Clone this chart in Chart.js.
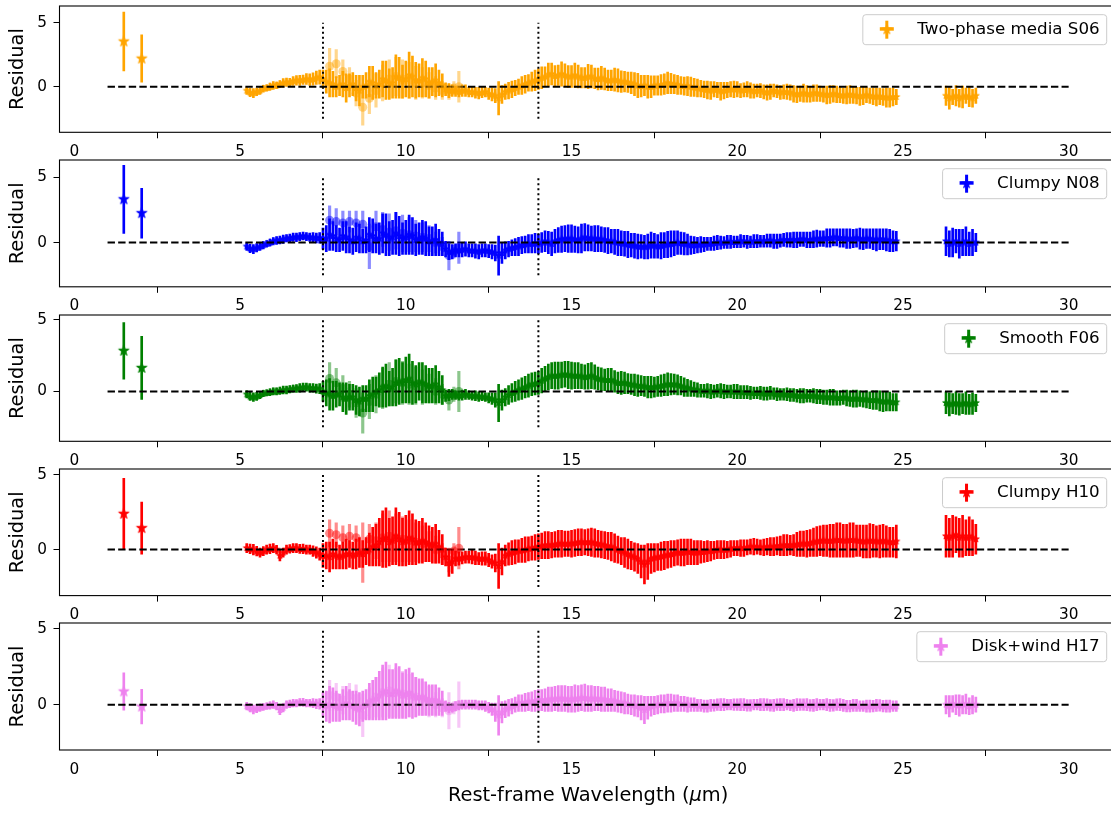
<!DOCTYPE html>
<html lang="en">
<head>
<meta charset="utf-8">
<title>Residuals per torus model</title>
<script src="https://cdn.jsdelivr.net/npm/chart.js@4.4.1/dist/chart.umd.min.js"></script>
<style>
  html, body { margin: 0; padding: 0; background: #fff; overflow: hidden; }
  #figure { position: relative; width: 1111px; height: 814px; overflow: hidden; }
  #figure canvas { position: absolute; left: 0; }
</style>
</head>
<body>
<div id="figure"></div>
<script>
// Rest-frame wavelength grids (micron)
const WAVE = [
  5.2, 5.3, 5.4, 5.5, 5.6, 5.7, 5.8, 5.9, 6.0, 6.1,
  6.2, 6.3, 6.4, 6.5, 6.6, 6.7, 6.8, 6.9, 7.0, 7.1,
  7.2, 7.3, 7.4, 7.5, 7.6, 7.7, 7.8, 7.9, 8.0, 8.1,
  8.2, 8.3, 8.4, 8.5, 8.6, 8.7, 8.8, 8.9, 9.0, 9.1,
  9.2, 9.3, 9.4, 9.5, 9.6, 9.7, 9.8, 9.9, 10.0, 10.1,
  10.2, 10.3, 10.4, 10.5, 10.6, 10.7, 10.8, 10.9, 11.0, 11.1,
  11.2, 11.3, 11.4, 11.5, 11.6, 11.7, 11.8, 11.9, 12.0, 12.1,
  12.2, 12.3, 12.4, 12.5, 12.6, 12.7, 12.8, 12.9, 13.0, 13.1,
  13.2, 13.3, 13.4, 13.5, 13.6, 13.7, 13.8, 13.9, 14.0, 14.1,
  14.2, 14.3, 14.4, 14.5, 14.6, 14.7, 14.8, 14.9, 15.0, 15.1,
  15.2, 15.3, 15.4, 15.5, 15.6, 15.7, 15.8, 15.9, 16.0, 16.1,
  16.2, 16.3, 16.4, 16.5, 16.6, 16.7, 16.8, 16.9, 17.0, 17.1,
  17.2, 17.3, 17.4, 17.5, 17.6, 17.7, 17.8, 17.9, 18.0, 18.1,
  18.2, 18.3, 18.4, 18.5, 18.6, 18.7, 18.8, 18.9, 19.0, 19.1,
  19.2, 19.3, 19.4, 19.5, 19.6, 19.7, 19.8, 19.9, 20.0, 20.1,
  20.2, 20.3, 20.4, 20.5, 20.6, 20.7, 20.8, 20.9, 21.0, 21.1,
  21.2, 21.3, 21.4, 21.5, 21.6, 21.7, 21.8, 21.9, 22.0, 22.1,
  22.2, 22.3, 22.4, 22.5, 22.6, 22.7, 22.8, 22.9, 23.0, 23.1,
  23.2, 23.3, 23.4, 23.5, 23.6, 23.7, 23.8, 23.9, 24.0, 24.1,
  24.2, 24.3, 24.4, 24.5, 24.6, 24.7, 24.8
];
const WAVE_LONG = [26.3, 26.4, 26.5, 26.6, 26.7, 26.8, 26.9, 27.0, 27.1, 27.2];
const WAVE_OVER = [7.7, 7.9, 8.1, 8.3, 8.5, 8.7, 8.9, 9.1, 9.3, 9.5, 9.7, 9.9, 10.1, 10.3, 10.5, 10.7, 10.9, 11.1, 11.3, 11.45, 11.6];
const WAVE_PHOT = [1.49, 2.03];

const X_TICKS = [0, 5, 10, 15, 20, 25, 30];
const Y_TICKS = [0, 5];
const ZERO_LINE = [1, 30];
const MARK_LINES = [7.5, 14];
const MARK_SPAN = [-2.5, 5];

// Two-phase media S06
const RES_S06 = [
  -0.3, -0.45, -0.5, -0.4, -0.3, -0.15, -0.1, 0.0, 0.1, 0.1,
  0.2, 0.3, 0.35, 0.35, 0.45, 0.5, 0.5, 0.55, 0.6, 0.55,
  0.6, 0.7, 0.75, 0.6, 0.4, 0.3, 0.2, 0.0, 0.1, 0.2,
  -0.1, 0.1, 0.2, -0.1, -0.3, 0.0, 0.1, 0.4, 0.3, 0.1,
  0.2, 0.6, 0.5, 0.2, 0.3, 0.8, 0.7, 0.4, 0.6, 0.9,
  0.8, 0.5, 0.5, 0.7, 0.6, 0.3, 0.4, 0.5, 0.3, 0.1,
  -0.2, -0.3, -0.3, -0.35, -0.4, -0.3, -0.3, -0.4, -0.4, -0.45,
  -0.5, -0.45, -0.4, -0.55, -0.6, -0.7, -0.9, -0.6, -0.4, -0.3,
  -0.2, -0.1, 0.0, 0.1, 0.2, 0.3, 0.4, 0.5, 0.6, 0.7,
  0.8, 0.95, 1.0, 0.85, 0.9, 1.0, 0.9, 0.8, 0.8, 0.9,
  0.8, 0.7, 0.7, 0.8, 0.8, 0.65, 0.6, 0.7, 0.6, 0.5,
  0.5, 0.55, 0.5, 0.4, 0.4, 0.35, 0.3, 0.2, 0.1, 0.05,
  0.1, 0.0, 0.0, 0.1, 0.1, 0.15, 0.2, 0.3, 0.25, 0.2,
  0.15, 0.1, 0.05, 0.05, 0.0, -0.05, -0.1, -0.15, -0.2, -0.25,
  -0.3, -0.2, -0.25, -0.35, -0.3, -0.25, -0.2, -0.2, -0.2, -0.3,
  -0.25, -0.2, -0.3, -0.35, -0.3, -0.3, -0.4, -0.45, -0.4, -0.3,
  -0.35, -0.45, -0.4, -0.4, -0.45, -0.55, -0.6, -0.55, -0.5, -0.55,
  -0.6, -0.5, -0.5, -0.55, -0.6, -0.65, -0.6, -0.55, -0.6, -0.65,
  -0.7, -0.65, -0.6, -0.65, -0.7, -0.75, -0.7, -0.65, -0.7, -0.75,
  -0.8, -0.75, -0.8, -0.85, -0.85, -0.8, -0.8
];
const ERR_S06 = [
  0.30, 0.32, 0.35, 0.30, 0.30, 0.27, 0.25, 0.28, 0.30, 0.26,
  0.28, 0.33, 0.32, 0.30, 0.35, 0.38, 0.40, 0.36, 0.42, 0.45,
  0.48, 0.52, 0.55, 0.7, 0.9, 1.1, 1.0, 0.8, 0.8, 1.0,
  1.1, 0.9, 0.9, 1.0, 1.2, 0.9, 1.0, 1.2, 1.3, 1.0,
  1.1, 1.4, 1.5, 1.2, 1.2, 1.7, 1.6, 1.3, 1.4, 1.8,
  1.6, 1.4, 1.3, 1.5, 1.4, 1.2, 1.1, 1.3, 1.0, 0.9,
  0.5, 0.55, 0.45, 0.4, 0.4, 0.45, 0.45, 0.4, 0.4, 0.45,
  0.45, 0.4, 0.4, 0.45, 0.5, 0.55, 1.3, 0.7, 0.6, 0.65,
  0.65, 0.6, 0.6, 0.7, 0.7, 0.65, 0.75, 0.8, 0.8, 0.85,
  0.75, 0.9, 0.85, 0.8, 0.8, 0.95, 0.9, 0.85, 0.85, 0.95,
  0.9, 0.8, 0.8, 0.95, 0.9, 0.8, 0.85, 0.9, 0.85, 0.8,
  0.8, 0.9, 0.9, 0.85, 0.8, 0.8, 0.85, 0.9, 0.95, 0.85,
  0.8, 0.9, 0.85, 0.75, 0.75, 0.8, 0.8, 0.85, 0.8, 0.75,
  0.75, 0.7, 0.7, 0.75, 0.75, 0.7, 0.7, 0.65, 0.65, 0.7,
  0.7, 0.6, 0.6, 0.7, 0.65, 0.6, 0.6, 0.65, 0.6, 0.55,
  0.55, 0.6, 0.6, 0.55, 0.5, 0.55, 0.55, 0.6, 0.6, 0.5,
  0.5, 0.55, 0.55, 0.6, 0.6, 0.65, 0.65, 0.6, 0.7, 0.65,
  0.6, 0.65, 0.65, 0.6, 0.6, 0.7, 0.7, 0.65, 0.65, 0.6,
  0.6, 0.7, 0.7, 0.65, 0.65, 0.7, 0.7, 0.6, 0.6, 0.65,
  0.7, 0.65, 0.65, 0.75, 0.75, 0.7, 0.6
];
const OVER_RES_S06 = [1.6, 1.8, 1.2, 0.6, -0.5, -1.6, -0.9, -0.3, 0.3, 0.6, 0.8, 0.6, 0.5, 0.3, 0.3, 0.1, -0.1, -0.3, -0.4, -0.1, 0.0];
const OVER_ERR_S06 = [1.4, 1.1, 0.9, 0.9, 1.0, 1.4, 1.2, 1.3, 1.4, 1.5, 1.5, 1.5, 1.4, 1.3, 1.2, 1.0, 0.9, 0.7, 0.6, 0.5, 1.2];
const LONG_RES_S06 = [-0.7, -0.9, -0.8, -0.7, -0.9, -0.8, -0.7, -0.8, -0.9, -0.7];
const LONG_ERR_S06 = [0.75, 0.85, 0.6, 0.8, 0.7, 0.85, 0.6, 0.75, 0.7, 0.6];
const PHOT_RES_S06 = [3.54, 2.2];
const PHOT_ERR_S06 = [2.3, 1.85];

// Clumpy N08
const RES_N08 = [
  -0.3, -0.45, -0.5, -0.4, -0.3, -0.2, -0.1, 0.0, 0.1, 0.15,
  0.2, 0.25, 0.3, 0.35, 0.4, 0.4, 0.45, 0.5, 0.45, 0.4,
  0.4, 0.35, 0.35, 0.3, 0.3, 0.6, 0.5, 0.3, 0.2, 0.5,
  0.4, 0.2, 0.1, 0.4, 0.3, 0.1, 0.2, 0.6, 0.5, 0.3,
  0.3, 0.7, 0.6, 0.3, 0.4, 0.7, 0.5, 0.3, 0.4, 0.6,
  0.5, 0.2, 0.3, 0.4, 0.3, 0.1, 0.1, 0.2, 0.0, -0.1,
  -0.5, -0.7, -0.7, -0.6, -0.6, -0.55, -0.5, -0.6, -0.6, -0.65,
  -0.7, -0.6, -0.6, -0.65, -0.7, -0.8, -1.0, -0.8, -0.6, -0.5,
  -0.4, -0.35, -0.3, -0.2, -0.15, -0.1, -0.1, -0.05, -0.1, 0.0,
  0.1, 0.0, -0.1, 0.1, 0.2, 0.25, 0.3, 0.3, 0.3, 0.25,
  0.2, 0.3, 0.4, 0.35, 0.3, 0.3, 0.3, 0.25, 0.2, 0.15,
  0.1, 0.05, 0.0, -0.05, -0.1, -0.15, -0.2, -0.25, -0.3, -0.3,
  -0.35, -0.3, -0.2, -0.25, -0.3, -0.25, -0.2, -0.15, -0.1, -0.05,
  0.0, -0.05, -0.1, -0.15, -0.2, -0.2, -0.2, -0.15, -0.15, -0.1,
  -0.1, -0.05, 0.0, 0.0, 0.0, 0.05, 0.05, 0.05, 0.05, 0.1,
  0.1, 0.05, 0.05, 0.1, 0.1, 0.1, 0.1, 0.15, 0.15, 0.1,
  0.1, 0.15, 0.2, 0.2, 0.2, 0.2, 0.2, 0.25, 0.25, 0.2,
  0.2, 0.25, 0.3, 0.3, 0.3, 0.35, 0.35, 0.4, 0.4, 0.35,
  0.35, 0.3, 0.3, 0.3, 0.35, 0.3, 0.25, 0.3, 0.3, 0.25,
  0.2, 0.25, 0.25, 0.2, 0.15, 0.1, 0.1
];
const ERR_N08 = [
  0.30, 0.32, 0.35, 0.32, 0.30, 0.28, 0.25, 0.27, 0.28, 0.30,
  0.30, 0.32, 0.30, 0.30, 0.32, 0.33, 0.30, 0.30, 0.30, 0.32,
  0.35, 0.38, 0.4, 0.8, 1.0, 1.2, 1.1, 1.0, 0.9, 1.1,
  1.2, 1.0, 1.0, 1.1, 1.1, 0.9, 1.0, 1.3, 1.3, 1.1,
  1.2, 1.5, 1.6, 1.3, 1.3, 1.6, 1.5, 1.2, 1.3, 1.5,
  1.4, 1.2, 1.2, 1.3, 1.3, 1.1, 1.1, 1.2, 1.0, 0.9,
  0.6, 0.6, 0.55, 0.5, 0.5, 0.55, 0.55, 0.5, 0.5, 0.55,
  0.55, 0.5, 0.5, 0.5, 0.55, 0.6, 1.5, 0.8, 0.65, 0.6,
  0.6, 0.65, 0.7, 0.65, 0.65, 0.7, 0.7, 0.75, 0.75, 0.75,
  0.8, 0.85, 0.9, 0.9, 0.95, 1.0, 1.0, 1.05, 1.05, 1.0,
  1.0, 1.1, 1.05, 1.0, 0.95, 1.0, 1.0, 0.95, 0.95, 1.0,
  0.9, 0.95, 1.0, 0.95, 0.95, 1.0, 0.9, 0.95, 0.95, 0.9,
  0.9, 0.95, 1.0, 0.95, 0.9, 1.0, 0.95, 1.0, 1.0, 0.95,
  0.9, 0.85, 0.85, 0.8, 0.7, 0.65, 0.6, 0.6, 0.55, 0.5,
  0.5, 0.55, 0.55, 0.5, 0.45, 0.5, 0.5, 0.45, 0.45, 0.5,
  0.45, 0.5, 0.45, 0.5, 0.5, 0.45, 0.45, 0.5, 0.5, 0.55,
  0.55, 0.5, 0.5, 0.55, 0.55, 0.6, 0.6, 0.55, 0.55, 0.6,
  0.6, 0.65, 0.65, 0.6, 0.6, 0.7, 0.7, 0.65, 0.65, 0.7,
  0.7, 0.75, 0.75, 0.7, 0.7, 0.8, 0.8, 0.75, 0.75, 0.8,
  0.85, 0.8, 0.8, 0.85, 0.85, 0.8, 0.75
];
const OVER_RES_N08 = [1.7, 1.6, 1.5, 1.6, 1.5, 1.4, -0.3, 1.2, 1.0, 0.8, 0.9, 0.7, 0.6, 0.5, 0.4, 0.3, 0.0, -0.3, -1.0, -0.7, -0.4];
const OVER_ERR_N08 = [1.1, 1.0, 0.9, 0.8, 0.9, 1.0, 1.7, 1.2, 1.3, 1.4, 1.4, 1.4, 1.3, 1.2, 1.1, 1.0, 0.8, 0.7, 1.1, 0.5, 1.2];
const LONG_RES_N08 = [0.1, -0.1, 0.0, 0.1, -0.1, 0.0, 0.1, -0.1, 0.0, 0.0];
const LONG_ERR_N08 = [1.1, 1.0, 1.1, 0.9, 1.1, 1.0, 1.1, 0.9, 1.0, 0.7];
const PHOT_RES_N08 = [3.3, 2.24];
const PHOT_ERR_N08 = [2.6, 1.9];

// Smooth F06
const RES_F06 = [
  -0.2, -0.35, -0.4, -0.35, -0.25, -0.15, -0.1, -0.05, 0.0, 0.0,
  0.05, 0.1, 0.1, 0.15, 0.2, 0.2, 0.25, 0.3, 0.3, 0.25,
  0.25, 0.2, 0.2, 0.0, -0.1, -0.2, -0.3, -0.2, -0.2, -0.4,
  -0.5, -0.4, -0.4, -0.6, -0.7, -0.5, -0.5, -0.3, -0.2, 0.0,
  0.1, 0.3, 0.4, 0.2, 0.3, 0.6, 0.7, 0.6, 0.8, 0.9,
  0.6, 0.5, 0.7, 0.6, 0.5, 0.4, 0.4, 0.5, 0.3, 0.1,
  -0.3, -0.25, -0.2, -0.25, -0.3, -0.25, -0.2, -0.25, -0.3, -0.3,
  -0.35, -0.35, -0.4, -0.45, -0.5, -0.6, -0.8, -0.6, -0.4, -0.25,
  -0.1, 0.0, 0.1, 0.2, 0.3, 0.4, 0.5, 0.55, 0.6, 0.75,
  0.9, 1.0, 1.1, 1.1, 1.1, 1.15, 1.2, 1.15, 1.1, 1.1,
  1.1, 1.05, 1.0, 1.05, 1.1, 1.0, 0.9, 0.85, 0.8, 0.8,
  0.8, 0.7, 0.6, 0.6, 0.6, 0.55, 0.5, 0.45, 0.4, 0.4,
  0.35, 0.3, 0.3, 0.3, 0.35, 0.4, 0.45, 0.5, 0.5, 0.5,
  0.45, 0.4, 0.3, 0.25, 0.2, 0.15, 0.1, 0.05, 0.05, 0.05,
  0.0, 0.0, 0.05, 0.05, 0.0, 0.0, 0.0, 0.0, 0.0, -0.05,
  -0.05, -0.05, -0.1, -0.1, -0.1, -0.1, -0.15, -0.15, -0.1, -0.15,
  -0.2, -0.2, -0.2, -0.2, -0.25, -0.25, -0.3, -0.3, -0.3, -0.3,
  -0.3, -0.3, -0.35, -0.35, -0.4, -0.4, -0.4, -0.4, -0.45, -0.45,
  -0.4, -0.45, -0.5, -0.5, -0.5, -0.5, -0.55, -0.55, -0.6, -0.6,
  -0.6, -0.65, -0.7, -0.7, -0.7, -0.75, -0.75
];
const ERR_F06 = [
  0.25, 0.28, 0.3, 0.28, 0.25, 0.22, 0.22, 0.24, 0.25, 0.25,
  0.25, 0.27, 0.28, 0.26, 0.25, 0.27, 0.3, 0.28, 0.28, 0.3,
  0.3, 0.32, 0.35, 0.7, 0.9, 1.1, 1.0, 0.9, 0.8, 1.0,
  1.1, 0.9, 0.9, 1.0, 1.0, 0.9, 0.9, 1.1, 1.2, 1.0,
  1.2, 1.4, 1.5, 1.2, 1.3, 1.6, 1.6, 1.4, 1.6, 1.7,
  1.5, 1.3, 1.3, 1.4, 1.3, 1.2, 1.2, 1.3, 1.1, 1.0,
  0.4, 0.4, 0.35, 0.3, 0.3, 0.35, 0.35, 0.3, 0.3, 0.35,
  0.35, 0.3, 0.3, 0.35, 0.4, 0.5, 1.3, 0.7, 0.6, 0.65,
  0.65, 0.7, 0.7, 0.75, 0.75, 0.8, 0.8, 0.8, 0.8, 0.85,
  0.85, 0.9, 0.9, 0.95, 0.95, 0.9, 0.9, 0.95, 0.95, 0.9,
  0.9, 0.85, 0.85, 0.9, 0.9, 0.85, 0.8, 0.8, 0.75, 0.8,
  0.8, 0.75, 0.75, 0.8, 0.75, 0.7, 0.7, 0.75, 0.75, 0.7,
  0.7, 0.75, 0.75, 0.7, 0.7, 0.75, 0.75, 0.8, 0.75, 0.7,
  0.7, 0.65, 0.65, 0.6, 0.55, 0.5, 0.5, 0.45, 0.45, 0.5,
  0.5, 0.45, 0.45, 0.5, 0.5, 0.45, 0.45, 0.5, 0.5, 0.45,
  0.45, 0.45, 0.45, 0.4, 0.4, 0.45, 0.45, 0.45, 0.45, 0.4,
  0.45, 0.4, 0.4, 0.45, 0.45, 0.45, 0.45, 0.5, 0.5, 0.45,
  0.45, 0.5, 0.5, 0.5, 0.5, 0.5, 0.55, 0.55, 0.5, 0.5,
  0.5, 0.55, 0.55, 0.6, 0.6, 0.55, 0.55, 0.6, 0.6, 0.65,
  0.65, 0.7, 0.7, 0.65, 0.65, 0.6, 0.6
];
const OVER_RES_F06 = [0.9, 0.6, 0.2, -0.2, -0.8, -1.5, -0.7, -0.2, 0.2, 0.5, 0.7, 0.6, 0.5, 0.4, 0.3, 0.2, 0.0, -0.2, -0.6, -0.2, 0.0];
const OVER_ERR_F06 = [1.1, 1.0, 0.9, 0.9, 1.0, 1.4, 1.2, 1.3, 1.4, 1.5, 1.5, 1.5, 1.4, 1.3, 1.2, 1.0, 0.9, 0.7, 0.7, 0.5, 1.4];
const LONG_RES_F06 = [-0.8, -0.9, -0.85, -0.8, -0.9, -0.85, -0.8, -0.9, -0.85, -0.8];
const LONG_ERR_F06 = [0.75, 0.8, 0.7, 0.8, 0.75, 0.7, 0.8, 0.7, 0.75, 0.6];
const PHOT_RES_F06 = [2.83, 1.64];
const PHOT_ERR_F06 = [1.97, 2.2];

// Clumpy H10
const RES_H10 = [
  0.1, 0.05, 0.0, -0.1, -0.2, -0.1, 0.0, 0.05, 0.1, 0.0,
  -0.4, -0.2, 0.0, 0.05, 0.1, 0.1, 0.05, 0.05, 0.0, 0.0,
  -0.1, -0.2, -0.3, -0.4, -0.4, -0.5, -0.3, -0.4, -0.5, -0.4,
  -0.3, -0.3, -0.4, -0.3, -0.2, -0.3, -0.1, 0.0, 0.2, 0.3,
  0.5, 0.7, 0.8, 0.5, 0.6, 0.9, 0.7, 0.5, 0.6, 0.8,
  0.7, 0.5, 0.5, 0.6, 0.5, 0.4, 0.3, 0.4, 0.2, 0.0,
  -0.5, -0.9, -0.8, -0.6, -0.6, -0.55, -0.5, -0.5, -0.5, -0.55,
  -0.6, -0.6, -0.6, -0.7, -0.8, -0.9, -1.1, -0.8, -0.4, -0.3,
  -0.2, -0.15, -0.1, -0.05, 0.0, 0.05, 0.1, 0.15, 0.2, 0.25,
  0.3, 0.3, 0.3, 0.35, 0.4, 0.4, 0.4, 0.4, 0.4, 0.45,
  0.5, 0.5, 0.5, 0.5, 0.5, 0.45, 0.4, 0.35, 0.3, 0.25,
  0.2, 0.1, 0.0, -0.1, -0.2, -0.3, -0.4, -0.5, -0.6, -0.8,
  -1.0, -0.8, -0.6, -0.55, -0.5, -0.45, -0.4, -0.35, -0.3, -0.25,
  -0.2, -0.2, -0.2, -0.15, -0.15, -0.2, -0.2, -0.15, -0.15, -0.1,
  -0.1, -0.05, 0.0, 0.0, 0.0, 0.0, 0.05, 0.1, 0.1, 0.1,
  0.1, 0.15, 0.2, 0.2, 0.2, 0.15, 0.15, 0.2, 0.2, 0.2,
  0.25, 0.25, 0.3, 0.3, 0.3, 0.3, 0.35, 0.4, 0.4, 0.4,
  0.45, 0.5, 0.55, 0.6, 0.6, 0.6, 0.6, 0.6, 0.65, 0.65,
  0.6, 0.6, 0.65, 0.65, 0.6, 0.6, 0.55, 0.55, 0.6, 0.6,
  0.55, 0.55, 0.6, 0.55, 0.5, 0.5, 0.55
];
const ERR_H10 = [
  0.3, 0.32, 0.35, 0.32, 0.3, 0.3, 0.3, 0.32, 0.3, 0.28,
  0.35, 0.3, 0.3, 0.28, 0.3, 0.3, 0.3, 0.32, 0.3, 0.3,
  0.35, 0.38, 0.4, 0.8, 0.9, 1.0, 1.0, 0.9, 0.8, 0.9,
  1.0, 0.9, 0.9, 1.0, 1.0, 0.9, 0.9, 1.1, 1.3, 1.4,
  1.6, 1.9, 2.0, 1.6, 1.6, 1.9, 1.8, 1.6, 1.7, 1.8,
  1.7, 1.5, 1.4, 1.5, 1.3, 1.2, 1.2, 1.3, 1.1, 1.0,
  0.6, 0.9, 0.8, 0.5, 0.45, 0.4, 0.4, 0.4, 0.45, 0.45,
  0.4, 0.45, 0.45, 0.45, 0.45, 0.6, 1.5, 0.9, 0.7, 0.75,
  0.8, 0.8, 0.75, 0.8, 0.85, 0.8, 0.8, 0.85, 0.85, 0.85,
  0.9, 0.9, 0.85, 0.85, 0.9, 0.9, 0.85, 0.85, 0.9, 0.9,
  0.9, 0.9, 0.85, 0.9, 0.95, 0.95, 0.9, 0.9, 0.9, 0.9,
  0.95, 0.95, 0.9, 0.9, 1.0, 1.0, 0.95, 0.95, 1.0, 1.1,
  1.3, 1.2, 1.0, 0.95, 0.9, 0.95, 0.95, 0.9, 0.9, 0.85,
  0.85, 0.9, 0.9, 0.85, 0.85, 0.8, 0.8, 0.75, 0.7, 0.7,
  0.65, 0.6, 0.6, 0.6, 0.6, 0.55, 0.55, 0.5, 0.5, 0.55,
  0.55, 0.5, 0.5, 0.55, 0.5, 0.5, 0.55, 0.55, 0.6, 0.6,
  0.6, 0.65, 0.7, 0.7, 0.65, 0.7, 0.8, 0.85, 0.85, 0.9,
  0.9, 0.95, 1.0, 1.0, 1.05, 1.05, 1.1, 1.1, 1.15, 1.15,
  1.1, 1.1, 1.15, 1.15, 1.05, 1.05, 1.1, 1.1, 1.15, 1.1,
  1.05, 1.1, 1.1, 1.05, 1.0, 1.0, 1.1
];
const OVER_RES_H10 = [1.1, 1.0, 0.8, 0.9, 0.8, -0.2, 0.7, 0.6, 0.8, 0.9, 0.8, 0.7, 0.6, 0.5, 0.4, 0.2, 0.0, -0.3, -0.7, -0.1, 0.1];
const OVER_ERR_H10 = [0.9, 0.8, 0.8, 0.8, 0.8, 2.0, 1.0, 1.2, 1.6, 1.7, 1.6, 1.5, 1.4, 1.3, 1.2, 1.0, 0.9, 0.7, 0.8, 0.5, 1.4];
const LONG_RES_H10 = [0.9, 0.8, 0.9, 1.0, 0.8, 0.9, 0.8, 0.9, 0.8, 0.7];
const LONG_ERR_H10 = [1.4, 1.3, 1.4, 1.2, 1.3, 1.4, 1.2, 1.3, 1.2, 1.0];
const PHOT_RES_H10 = [2.4, 1.44];
const PHOT_ERR_H10 = [2.37, 1.75];

// Disk+wind H17
const RES_H17 = [
  -0.1, -0.2, -0.3, -0.25, -0.2, -0.15, -0.1, -0.05, 0.0, -0.1,
  -0.35, -0.2, 0.0, 0.05, 0.1, 0.1, 0.15, 0.15, 0.1, 0.1,
  0.1, 0.05, 0.05, 0.0, -0.1, 0.0, 0.0, -0.1, -0.2, 0.0,
  0.1, 0.0, -0.1, -0.2, -0.3, -0.1, 0.0, 0.2, 0.3, 0.4,
  0.6, 0.8, 0.9, 0.7, 0.7, 0.9, 0.8, 0.6, 0.7, 0.8,
  0.6, 0.5, 0.5, 0.5, 0.4, 0.3, 0.3, 0.3, 0.2, 0.1,
  -0.1, -0.2, -0.2, -0.1, -0.05, 0.0, 0.0, 0.0, 0.0, 0.0,
  -0.05, -0.05, -0.1, -0.2, -0.3, -0.5, -0.7, -0.5, -0.3, -0.2,
  -0.1, 0.0, 0.1, 0.1, 0.15, 0.2, 0.2, 0.25, 0.3, 0.3,
  0.3, 0.35, 0.35, 0.4, 0.4, 0.4, 0.4, 0.35, 0.35, 0.4,
  0.4, 0.45, 0.45, 0.4, 0.4, 0.4, 0.4, 0.35, 0.35, 0.3,
  0.3, 0.25, 0.2, 0.15, 0.1, 0.05, 0.0, -0.05, -0.1, -0.2,
  -0.35, -0.2, -0.1, -0.05, 0.0, 0.05, 0.05, 0.1, 0.1, 0.1,
  0.1, 0.05, 0.05, 0.0, 0.0, 0.0, -0.05, -0.05, -0.1, -0.1,
  -0.05, -0.05, 0.0, 0.0, 0.0, 0.0, 0.0, 0.0, 0.0, 0.0,
  0.0, -0.05, -0.05, 0.0, 0.0, 0.0, 0.0, 0.0, -0.05, -0.05,
  0.0, 0.0, 0.0, 0.0, -0.05, -0.05, 0.0, 0.0, 0.0, 0.0,
  -0.05, -0.05, 0.0, 0.0, 0.0, 0.0, -0.05, -0.05, 0.0, 0.0,
  -0.05, -0.1, -0.1, -0.05, -0.05, -0.1, -0.1, -0.1, -0.1, -0.1,
  -0.05, -0.05, -0.1, -0.1, -0.1, -0.1, -0.1
];
const ERR_H17 = [
  0.25, 0.28, 0.3, 0.28, 0.25, 0.22, 0.22, 0.24, 0.25, 0.25,
  0.3, 0.28, 0.25, 0.25, 0.25, 0.24, 0.25, 0.26, 0.25, 0.25,
  0.3, 0.32, 0.35, 0.8, 1.0, 1.2, 1.1, 1.0, 0.9, 1.0,
  1.1, 1.0, 1.0, 1.1, 1.1, 1.0, 1.0, 1.2, 1.3, 1.4,
  1.6, 1.8, 1.9, 1.6, 1.6, 1.8, 1.7, 1.5, 1.6, 1.6,
  1.5, 1.3, 1.2, 1.2, 1.1, 1.0, 1.0, 1.0, 0.9, 0.8,
  0.35, 0.35, 0.3, 0.3, 0.3, 0.3, 0.3, 0.3, 0.3, 0.3,
  0.3, 0.3, 0.35, 0.35, 0.4, 0.6, 1.3, 0.7, 0.55, 0.55,
  0.5, 0.5, 0.55, 0.55, 0.6, 0.6, 0.65, 0.7, 0.7, 0.7,
  0.75, 0.8, 0.8, 0.8, 0.85, 0.85, 0.85, 0.85, 0.85, 0.9,
  0.85, 0.85, 0.9, 0.85, 0.85, 0.8, 0.8, 0.8, 0.8, 0.75,
  0.75, 0.7, 0.7, 0.7, 0.7, 0.65, 0.65, 0.7, 0.7, 0.8,
  0.9, 0.75, 0.65, 0.6, 0.6, 0.6, 0.6, 0.6, 0.6, 0.55,
  0.55, 0.5, 0.5, 0.5, 0.45, 0.45, 0.4, 0.4, 0.4, 0.4,
  0.4, 0.38, 0.38, 0.4, 0.4, 0.35, 0.35, 0.38, 0.38, 0.4,
  0.4, 0.38, 0.38, 0.35, 0.35, 0.4, 0.4, 0.38, 0.38, 0.4,
  0.38, 0.4, 0.4, 0.35, 0.35, 0.4, 0.4, 0.38, 0.38, 0.4,
  0.38, 0.4, 0.4, 0.35, 0.35, 0.4, 0.4, 0.38, 0.38, 0.4,
  0.4, 0.38, 0.38, 0.4, 0.4, 0.35, 0.35, 0.4, 0.4, 0.38,
  0.4, 0.38, 0.38, 0.4, 0.4, 0.35, 0.35
];
const OVER_RES_H17 = [0.6, 0.5, 0.3, 0.6, 0.4, -0.7, 0.1, 0.5, 0.8, 0.9, 0.8, 0.7, 0.6, 0.5, 0.4, 0.2, 0.0, -0.2, -0.4, -0.2, 0.0];
const OVER_ERR_H17 = [1.0, 0.9, 0.9, 0.8, 0.9, 1.4, 1.0, 1.3, 1.6, 1.7, 1.6, 1.5, 1.4, 1.3, 1.1, 1.0, 0.8, 0.6, 1.2, 0.4, 1.5];
const LONG_RES_H17 = [0.0, -0.1, 0.05, 0.0, -0.05, 0.0, 0.05, -0.1, 0.0, 0.0];
const LONG_ERR_H17 = [0.6, 0.7, 0.55, 0.65, 0.7, 0.6, 0.65, 0.55, 0.6, 0.5];
const PHOT_RES_H17 = [0.87, -0.13];
const PHOT_ERR_H17 = [1.23, 1.14];

const PANELS = [
  { label: 'Two-phase media S06', color: '#ffa500', yMin: -3.56, yMax: 6.31,
    res: RES_S06, err: ERR_S06, overRes: OVER_RES_S06, overErr: OVER_ERR_S06,
    longRes: LONG_RES_S06, longErr: LONG_ERR_S06, photRes: PHOT_RES_S06, photErr: PHOT_ERR_S06 },
  { label: 'Clumpy N08', color: '#0000ff', yMin: -3.38, yMax: 6.30,
    res: RES_N08, err: ERR_N08, overRes: OVER_RES_N08, overErr: OVER_ERR_N08,
    longRes: LONG_RES_N08, longErr: LONG_ERR_N08, photRes: PHOT_RES_N08, photErr: PHOT_ERR_N08 },
  { label: 'Smooth F06', color: '#008000', yMin: -3.47, yMax: 5.32,
    res: RES_F06, err: ERR_F06, overRes: OVER_RES_F06, overErr: OVER_ERR_F06,
    longRes: LONG_RES_F06, longErr: LONG_ERR_F06, photRes: PHOT_RES_F06, photErr: PHOT_ERR_F06 },
  { label: 'Clumpy H10', color: '#ff0000', yMin: -3.08, yMax: 5.40,
    res: RES_H10, err: ERR_H10, overRes: OVER_RES_H10, overErr: OVER_ERR_H10,
    longRes: LONG_RES_H10, longErr: LONG_ERR_H10, photRes: PHOT_RES_H10, photErr: PHOT_ERR_H10 },
  { label: 'Disk+wind H17', color: '#ee82ee', yMin: -2.98, yMax: 5.37,
    res: RES_H17, err: ERR_H17, overRes: OVER_RES_H17, overErr: OVER_ERR_H17,
    longRes: LONG_RES_H17, longErr: LONG_ERR_H17, photRes: PHOT_RES_H17, photErr: PHOT_ERR_H17 }
];

// layout of the stacked axes (px)
const FONT = '"DejaVu Sans", sans-serif';
const FIG_W = 1130;          // wider than the window, the right spine falls just outside
const PANEL_TOP = [4, 158.5, 313, 467.3, 621.7];
const PANEL_H = 128.3;
const AXIS_LEFT = 59.5;
const AXIS_RIGHT = 1116.7;
const TITLE_SIZE = 19.4;

function hexToRgba(hex, a) {
  const n = parseInt(hex.slice(1), 16);
  return `rgba(${(n >> 16) & 255}, ${(n >> 8) & 255}, ${n & 255}, ${a})`;
}

// filled five-point star, like the '*' marker
function starMarker(color, r) {
  const c = document.createElement('canvas');
  const s = Math.ceil(2 * r + 3);
  c.width = s;
  c.height = s;
  const g = c.getContext('2d');
  g.translate(s / 2, s / 2);
  g.beginPath();
  for (let k = 0; k < 10; k++) {
    const rad = k % 2 ? r * 0.382 : r;
    const a = -Math.PI / 2 + k * Math.PI / 5;
    g.lineTo(rad * Math.cos(a), rad * Math.sin(a));
  }
  g.closePath();
  g.fillStyle = color;
  g.fill();
  g.strokeStyle = color;
  g.lineWidth = 1;
  g.stroke();
  return c;
}

function errorBars(xs, ys, es) {
  return xs.map((x, i) => ({ x, y: [ys[i] - es[i], ys[i] + es[i]] }));
}

function points(xs, ys) {
  return xs.map((x, i) => ({ x, y: ys[i] }));
}

const legendStars = [];

// white axes face, spines, legend box and the wavelength label (italic mu)
const panelDeco = {
  id: 'panelDeco',
  beforeDraw(chart) {
    const { ctx, chartArea: a } = chart;
    ctx.save();
    ctx.fillStyle = '#fff';
    ctx.fillRect(a.left, a.top, a.right - a.left, a.bottom - a.top);
    ctx.restore();
  },
  afterDraw(chart, args, opts) {
    const { ctx, chartArea: a } = chart;
    ctx.save();
    ctx.strokeStyle = '#000';
    ctx.lineWidth = 1.1;
    ctx.strokeRect(a.left, a.top, a.right - a.left, a.bottom - a.top);

    ctx.font = '16.7px ' + FONT;
    const tw = ctx.measureText(opts.label).width;
    const w = 54.5 + tw + 7;
    const h = 30;
    const bx = a.right - 10 - w;
    const by = a.top + 8.7;
    ctx.beginPath();
    ctx.roundRect(bx, by, w, h, 3);
    ctx.fillStyle = 'rgba(255,255,255,0.8)';
    ctx.fill();
    ctx.strokeStyle = '#cccccc';
    ctx.lineWidth = 1;
    ctx.stroke();

    // errorbar handle: vertical bar crossed by the star
    const mx = bx + 24;
    const my = by + h / 2;
    const star = legendStars[opts.index];
    ctx.fillStyle = opts.color;
    ctx.fillRect(mx - 1.5, my - 9, 3, 18);
    ctx.fillRect(mx - 7, my - 2.5, 14, 3.5);
    ctx.drawImage(star, mx - star.width / 2, my - star.height / 2);

    ctx.fillStyle = '#000';
    ctx.textBaseline = 'middle';
    ctx.textAlign = 'left';
    ctx.fillText(opts.label, bx + 54.5, my);

    if (opts.xTitle) {
      const parts = [
        ['Rest-frame Wavelength (', TITLE_SIZE + 'px ' + FONT],
        ['μ', 'italic ' + TITLE_SIZE + 'px ' + FONT],
        ['m)', TITLE_SIZE + 'px ' + FONT]
      ];
      const widths = parts.map(([t, f]) => { ctx.font = f; return ctx.measureText(t).width; });
      let x = (a.left + a.right) / 2 - widths.reduce((s, v) => s + v, 0) / 2;
      const y = chart.height - (TITLE_SIZE * 1.2) / 2 - 6.1;
      parts.forEach(([t, f], k) => {
        ctx.font = f;
        ctx.fillText(t, x, y);
        x += widths[k];
      });
    }
    ctx.restore();
  }
};

const fig = document.getElementById('figure');

PANELS.forEach((p, i) => {
  const last = i === PANELS.length - 1;
  const top = Math.floor(PANEL_TOP[i]) - 4;
  const padTop = PANEL_TOP[i] - top;
  const h = last ? 814 - top : 180;

  const canvas = document.createElement('canvas');
  canvas.width = FIG_W;
  canvas.height = h;
  canvas.style.top = top + 'px';
  canvas.style.width = FIG_W + 'px';
  canvas.style.height = h + 'px';
  fig.appendChild(canvas);

  const xs = WAVE.concat(WAVE_LONG, WAVE_PHOT);
  const ys = p.res.concat(p.longRes, p.photRes);
  const es = p.err.concat(p.longErr, p.photErr);
  const faint = hexToRgba(p.color, 0.45);
  legendStars[i] = starMarker(p.color, 5);

  const datasets = [
    ...MARK_LINES.map(x => ({
      type: 'line',
      data: MARK_SPAN.map(y => ({ x, y })),
      borderColor: '#000', borderWidth: 2, borderDash: [2, 3],
      pointRadius: 0, order: 0
    })),
    {
      type: 'scatter', data: points(WAVE_OVER, p.overRes),
      pointStyle: 'circle', pointRadius: 4.5, backgroundColor: faint, borderWidth: 0, order: 1
    },
    {
      type: 'bar', data: errorBars(WAVE_OVER, p.overRes, p.overErr),
      backgroundColor: faint, barThickness: 2.5, grouped: false, order: 2
    },
    {
      type: 'line', data: ZERO_LINE.map(x => ({ x, y: 0 })),
      borderColor: '#000', borderWidth: 2, borderDash: [7.4, 3.2], pointRadius: 0, order: 3
    },
    {
      type: 'scatter', data: points(WAVE_PHOT, p.photRes),
      pointStyle: starMarker(p.color, 5.5), pointRadius: 5, order: 4
    },
    {
      type: 'scatter', data: points(WAVE.concat(WAVE_LONG), p.res.concat(p.longRes)),
      pointStyle: starMarker(p.color, 3.5), pointRadius: 4, order: 5
    },
    {
      type: 'bar', data: errorBars(xs, ys, es),
      backgroundColor: p.color, barThickness: 2, grouped: false, order: 6
    }
  ];

  const tickGrid = { drawOnChartArea: false, drawTicks: true, tickLength: 6, tickColor: '#000', tickWidth: 1 };

  new Chart(canvas, {
    type: 'scatter',
    data: { datasets },
    plugins: [panelDeco],
    options: {
      responsive: false,
      maintainAspectRatio: false,
      animation: false,
      devicePixelRatio: 1,
      layout: { padding: { left: 0, right: FIG_W - AXIS_RIGHT, top: padTop, bottom: 0 } },
      plugins: {
        legend: { display: false },
        tooltip: { enabled: false },
        panelDeco: { label: p.label, color: p.color, index: i, xTitle: last }
      },
      scales: {
        x: {
          type: 'linear', min: -0.45, max: 31.45, offset: false,
          afterBuildTicks: s => { s.ticks = X_TICKS.map(v => ({ value: v })); },
          afterFit: s => { s.height = h - padTop - PANEL_H; s.paddingLeft = 0; s.paddingRight = 0; },
          grid: tickGrid,
          border: { display: false },
          ticks: { font: { family: FONT, size: 15.3 }, color: '#000', padding: 4.5, autoSkip: false, maxRotation: 0 }
        },
        y: {
          type: 'linear', min: p.yMin, max: p.yMax,
          afterBuildTicks: s => { s.ticks = Y_TICKS.map(v => ({ value: v })); },
          afterFit: s => { s.width = AXIS_LEFT; s.paddingTop = 0; s.paddingBottom = 0; },
          grid: tickGrid,
          border: { display: false },
          ticks: { font: { family: FONT, size: 15.3 }, color: '#000', padding: 6.5 },
          title: {
            display: true, text: 'Residual', color: '#000',
            font: { family: FONT, size: TITLE_SIZE }, padding: { top: 6.7, bottom: 0 }
          }
        }
      }
    }
  });
});
</script>
</body>
</html>
